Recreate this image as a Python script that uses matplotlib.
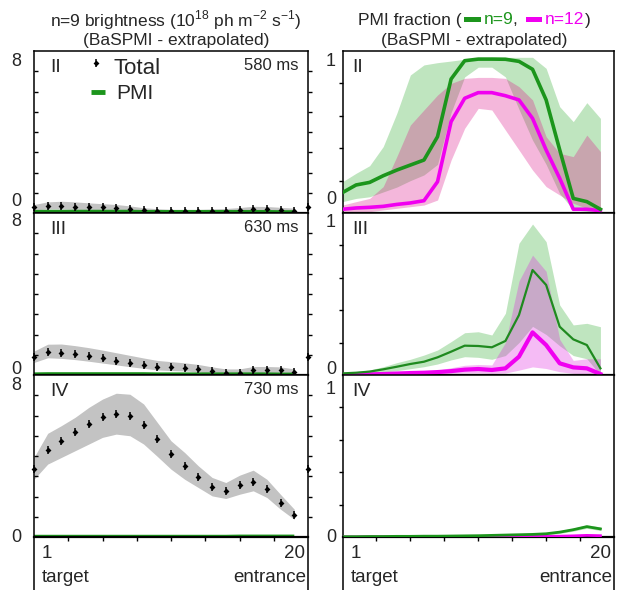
import numpy as np
import matplotlib
matplotlib.use('Agg')
import matplotlib.pyplot as plt
from matplotlib.lines import Line2D
from matplotlib.offsetbox import TextArea, DrawingArea, HPacker, AnnotationBbox
from matplotlib.patches import Rectangle

plt.rcParams['font.family'] = ['Liberation Sans', 'DejaVu Sans']
plt.rcParams['mathtext.fontset'] = 'custom'
plt.rcParams['mathtext.rm'] = 'Liberation Sans'

# ---------------- data ----------------
seg_left = np.arange(21)    # brightness positions (edge points included)
seg_right = np.arange(20)   # PMI fraction positions

# Left: n=9 brightness (10^18 ph m^-2 s^-1)
total_II = [0.28, 0.36, 0.36, 0.31, 0.30, 0.28, 0.26, 0.20, 0.15, 0.12, 0.10,
            0.10, 0.10, 0.10, 0.10, 0.15, 0.20, 0.18, 0.15, 0.12, 0.28]
total_II_hi = [0.42, 0.55, 0.58, 0.55, 0.50, 0.46, 0.42, 0.35, 0.26, 0.21,
               0.18, 0.18, 0.18, 0.20, 0.22, 0.27, 0.33, 0.32, 0.28, 0.24]
total_II_lo = [0.15, 0.20, 0.20, 0.17, 0.14, 0.12, 0.10, 0.06, 0.04, 0.03,
               0.02, 0.02, 0.02, 0.02, 0.02, 0.05, 0.08, 0.07, 0.05, 0.03]
pmi_II = [0.06, 0.07, 0.07, 0.07, 0.07, 0.07, 0.07, 0.07, 0.06, 0.06,
          0.06, 0.06, 0.06, 0.06, 0.06, 0.06, 0.06, 0.06, 0.05, 0.05]

total_III = [0.87, 1.14, 1.10, 1.02, 0.92, 0.82, 0.71, 0.61, 0.51, 0.41, 0.38,
             0.36, 0.30, 0.20, 0.10, 0.12, 0.25, 0.26, 0.25, 0.15, 0.87]
total_III_hi = [1.18, 1.52, 1.53, 1.45, 1.35, 1.23, 1.10, 0.97, 0.84, 0.72,
                0.66, 0.60, 0.52, 0.40, 0.30, 0.30, 0.42, 0.42, 0.40, 0.30]
total_III_lo = [0.62, 0.85, 0.82, 0.76, 0.68, 0.59, 0.50, 0.41, 0.33, 0.25,
                0.22, 0.20, 0.15, 0.06, 0.00, 0.02, 0.12, 0.13, 0.12, 0.04]
pmi_III = [0.04, 0.05, 0.05, 0.05, 0.05, 0.05, 0.05, 0.05, 0.05, 0.04,
           0.04, 0.04, 0.04, 0.04, 0.04, 0.04, 0.04, 0.04, 0.03, 0.03]

total_IV = [3.35, 4.31, 4.72, 5.17, 5.58, 5.91, 6.06, 5.97, 5.54, 4.83, 4.08,
            3.51, 2.95, 2.46, 2.26, 2.57, 2.74, 2.38, 1.67, 1.11, 3.38]
total_IV_hi = [3.93, 5.12, 5.50, 5.91, 6.40, 6.81, 7.10, 7.05, 6.57, 5.66,
               4.75, 4.17, 3.51, 2.94, 2.69, 3.05, 3.30, 2.85, 2.10, 1.37]
total_IV_lo = [2.85, 3.60, 3.93, 4.26, 4.59, 4.92, 5.08, 5.00, 4.59, 3.98,
               3.35, 2.85, 2.44, 2.03, 1.90, 2.11, 2.28, 1.95, 1.37, 0.87]
pmi_IV = [0.02, 0.02, 0.02, 0.02, 0.02, 0.02, 0.02, 0.02, 0.02, 0.02,
          0.02, 0.02, 0.02, 0.02, 0.02, 0.03, 0.03, 0.03, 0.03, 0.03]

# Right: PMI fraction
n9_II = [0.126, 0.173, 0.189, 0.230, 0.265, 0.296, 0.327, 0.471, 0.827, 0.940,
         0.950, 0.950, 0.949, 0.936, 0.887, 0.698, 0.390, 0.090, 0.070, 0.023]
n9_II_hi = [0.193, 0.245, 0.292, 0.410, 0.615, 0.852, 0.914, 0.928, 0.938, 0.949,
            0.955, 0.961, 0.961, 0.961, 0.961, 0.893, 0.656, 0.564, 0.681, 0.584]
n9_II_lo = [0.070, 0.090, 0.100, 0.130, 0.160, 0.200, 0.235, 0.300, 0.620, 0.840,
            0.900, 0.900, 0.840, 0.640, 0.450, 0.300, 0.120, 0.020, 0.010, 0.000]
n12_II = [0.023, 0.031, 0.035, 0.041, 0.053, 0.062, 0.076, 0.193, 0.564, 0.708,
          0.743, 0.743, 0.724, 0.698, 0.584, 0.389, 0.214, 0.023, 0.023, 0.014]
n12_II_hi = [0.049, 0.070, 0.090, 0.163, 0.348, 0.543, 0.636, 0.728, 0.800, 0.831,
             0.837, 0.837, 0.831, 0.780, 0.698, 0.471, 0.368, 0.348, 0.481, 0.379]
n12_II_lo = [0.002, 0.004, 0.008, 0.019, 0.029, 0.039, 0.049, 0.080, 0.327, 0.523,
             0.646, 0.636, 0.512, 0.389, 0.265, 0.163, 0.111, 0.060, 0.029, 0.008]

n9_III = [0.010, 0.014, 0.021, 0.035, 0.051, 0.068, 0.082, 0.109, 0.144, 0.181,
          0.179, 0.171, 0.210, 0.370, 0.648, 0.556, 0.298, 0.220, 0.185, 0.041]
n9_III_hi = [0.012, 0.021, 0.031, 0.051, 0.076, 0.097, 0.123, 0.154, 0.206, 0.261,
             0.267, 0.247, 0.381, 0.813, 0.932, 0.823, 0.432, 0.309, 0.319, 0.298]
n9_III_lo = [0.004, 0.006, 0.010, 0.018, 0.027, 0.039, 0.051, 0.068, 0.093, 0.113,
             0.109, 0.097, 0.120, 0.200, 0.300, 0.250, 0.180, 0.120, 0.100, 0.000]
n12_III = [0.000, 0.002, 0.004, 0.006, 0.009, 0.012, 0.014, 0.018, 0.024, 0.033,
           0.037, 0.031, 0.041, 0.113, 0.263, 0.185, 0.072, 0.047, 0.041, 0.006]
n12_III_hi = [0.002, 0.004, 0.007, 0.010, 0.014, 0.018, 0.022, 0.030, 0.045, 0.060,
              0.065, 0.062, 0.200, 0.580, 0.740, 0.640, 0.220, 0.090, 0.100, 0.100]
n12_III_lo = [0.000, 0.000, 0.000, 0.000, 0.002, 0.004, 0.006, 0.008, 0.010, 0.012,
              0.012, 0.010, 0.012, 0.030, 0.050, 0.040, 0.020, 0.010, 0.008, 0.000]

n9_IV = [0.002, 0.002, 0.003, 0.003, 0.004, 0.004, 0.005, 0.005, 0.006, 0.007,
         0.008, 0.010, 0.012, 0.014, 0.016, 0.020, 0.030, 0.045, 0.064, 0.050]
n9_IV_hi = [0.006, 0.006, 0.007, 0.007, 0.008, 0.008, 0.009, 0.010, 0.011, 0.012,
            0.013, 0.015, 0.017, 0.019, 0.022, 0.027, 0.038, 0.055, 0.075, 0.062]
n9_IV_lo = [0.000, 0.000, 0.000, 0.000, 0.001, 0.001, 0.002, 0.002, 0.002, 0.003,
            0.004, 0.005, 0.007, 0.009, 0.011, 0.014, 0.022, 0.036, 0.054, 0.040]
n12_IV = [0.000, 0.000, 0.001, 0.001, 0.001, 0.001, 0.002, 0.002, 0.002, 0.002,
          0.002, 0.003, 0.003, 0.003, 0.004, 0.004, 0.005, 0.007, 0.010, 0.008]

stages = ['II', 'III', 'IV']
times = ['580 ms', '630 ms', '730 ms']
total = [total_II, total_III, total_IV]
total_hi = [total_II_hi, total_III_hi, total_IV_hi]
total_lo = [total_II_lo, total_III_lo, total_IV_lo]
pmi = [pmi_II, pmi_III, pmi_IV]
n9 = [n9_II, n9_III, n9_IV]
n9_hi = [n9_II_hi, n9_III_hi, n9_IV_hi]
n9_lo = [n9_II_lo, n9_III_lo, n9_IV_lo]
n12 = [n12_II, n12_III, n12_IV]
n12_hi = [n12_II_hi, n12_III_hi, n12_IV]
n12_lo = [n12_II_lo, n12_III_lo, n12_IV]

# ---------------- layout ----------------
W, H = 617, 590
fig = plt.figure(figsize=(W / 100, H / 100), dpi=100)
TXT = '#262626'
GREEN = '#1c951c'
DGREEN = '#1f8a1f'
MAG = '#f000f0'


def fx(p):
    return p / W


def fy(p):
    return 1 - p / H


def total_marks(ax, x, y):
    ax.plot(x, y, ls='none', marker='D', ms=3.0, mew=0, color='black',
            zorder=3, clip_on=False)
    ax.plot(x, y, ls='none', marker='|', ms=5.5, mew=1.1, color='black',
            zorder=3, clip_on=False)


LX = (34, 308)
RX = (342.5, 614)
ROWS = [(51, 213), (213, 375), (375, 537)]

for i, (y0, y1) in enumerate(ROWS):
    # ---------- left panel ----------
    ax = fig.add_axes([fx(LX[0]), fy(y1), (LX[1] - LX[0]) / W, (y1 - y0) / H])
    ax.set_xlim(0, 20)
    ax.set_ylim(0, 8)
    xs = seg_left[:20]
    ax.fill_between(xs, total_lo[i], total_hi[i], color='#c3c3c3', lw=0, zorder=1)
    ax.plot(xs, pmi[i], color=GREEN, lw=2.6, zorder=2, solid_capstyle='butt')
    total_marks(ax, seg_left, total[i])
    ax.set_xticks(np.arange(1, 8) * 2.5)
    ax.set_yticks(np.arange(1, 8))
    ax.tick_params(axis='x', direction='out', length=3, width=1, labelbottom=False)
    ax.tick_params(axis='y', direction='in', length=3, width=1, labelleft=False)
    sec = ax.secondary_yaxis('right')
    sec.set_yticks(np.arange(1, 8))
    sec.tick_params(direction='out', length=3, width=1, labelright=False)
    sec.spines['right'].set_visible(False)
    for s in ax.spines.values():
        s.set_linewidth(1.1)
    ax.spines['bottom'].set_linewidth(1.6)

    # ---------- right panel ----------
    ar = fig.add_axes([fx(RX[0]), fy(y1), (RX[1] - RX[0]) / W, (y1 - y0) / H])
    ar.set_xlim(0, 20)
    ar.set_ylim(0, 1)
    pink = '#dd1188' if i == 0 else '#e020e0'
    ar.fill_between(seg_right, n9_lo[i], n9_hi[i], color='#80cc80', alpha=0.5, lw=0, zorder=1)
    if i < 2:
        ar.fill_between(seg_right, n12_lo[i], n12_hi[i], color=pink, alpha=0.3, lw=0, zorder=2)
    lw9 = [2.6, 1.6, 2.0][i]
    lw12 = [2.6, 3.0, 2.0][i]
    ar.plot(seg_right, n9[i], color=DGREEN if i == 1 else GREEN, lw=lw9, zorder=4)
    ar.plot(seg_right, n12[i], color=MAG, lw=lw12, zorder=3)
    ar.set_xticks(np.arange(1, 8) * 2.5)
    ar.set_yticks([0.2, 0.4, 0.6, 0.8])
    ar.tick_params(axis='x', direction='out', length=3, width=1, labelbottom=False)
    ar.tick_params(axis='y', direction='out', length=3, width=1, labelleft=False)
    for s in ar.spines.values():
        s.set_linewidth(1.1)
    ar.spines['bottom'].set_linewidth(1.6)

    # panel labels
    fig.text(fx(50), fy(ROWS[i][0] + 16), stages[i], fontsize=14, color=TXT,
             ha='left', va='center')
    fig.text(fx(352), fy(ROWS[i][0] + 16), stages[i], fontsize=14, color=TXT,
             ha='left', va='center')
    fig.text(fx(298), fy(ROWS[i][0] + 15), times[i], fontsize=12, color=TXT,
             ha='right', va='center')

# y tick labels (placed like the reference)
ylab_left = [(61, 201), (221, 369), (386, 538)]
ylab_right = [(61, 200), (223, 369), (390, 538)]
for (ytop, ybot) in ylab_left:
    fig.text(fx(21), fy(ytop), '8', fontsize=13, color=TXT, ha='right', va='center')
    fig.text(fx(21), fy(ybot), '0', fontsize=13, color=TXT, ha='right', va='center')
for (ytop, ybot) in ylab_right:
    fig.text(fx(336), fy(ytop), '1', fontsize=13, color=TXT, ha='right', va='center')
    fig.text(fx(336), fy(ybot), '0', fontsize=13, color=TXT, ha='right', va='center')

# extension of the bottom axes down to the figure edge
for xp in (LX[0], LX[1], RX[0], RX[1]):
    fig.add_artist(Line2D([fx(xp), fx(xp)], [fy(537), fy(590)], color='black', lw=1.1))

# bottom labels
for (xa, xb) in (LX, RX):
    fig.text(fx(xa + 8), fy(553), '1', fontsize=13.5, color=TXT, ha='left', va='center')
    fig.text(fx(xa + 8), fy(577), 'target', fontsize=13.5, color=TXT, ha='left', va='center')
    fig.text(fx(xb - 3), fy(553), '20', fontsize=13.5, color=TXT, ha='right', va='center')
    fig.text(fx(xb - 2), fy(577), 'entrance', fontsize=13.5, color=TXT, ha='right', va='center')

# legend in top-left panel
fig.add_artist(Line2D([fx(96)], [fy(63)], marker='D', ms=3.0, mew=0, color='black', ls='none'))
fig.add_artist(Line2D([fx(96)], [fy(63)], marker='|', ms=5.5, mew=1.1, color='black', ls='none'))
fig.text(fx(113), fy(68), 'Total', fontsize=16, color=TXT, ha='left', va='center')
fig.add_artist(Line2D([fx(91.5), fx(105)], [fy(92), fy(92)], color=GREEN, lw=3.5,
                      solid_capstyle='butt'))
fig.text(fx(116), fy(93), 'PMI', fontsize=15, color=TXT, ha='left', va='center')

# titles
fig.text(fx(176), fy(20),
         r'n=9 brightness (10$^{\mathregular{18}}$ ph m$^{\mathregular{-2}}$ s$^{\mathregular{-1}}$)',
         fontsize=12.5, color=TXT, ha='center', va='center')
fig.text(fx(176), fy(40), '(BaSPMI - extrapolated)', fontsize=12.5, color=TXT,
         ha='center', va='center')
fig.text(fx(474), fy(40), '(BaSPMI - extrapolated)', fontsize=12.5, color=TXT,
         ha='center', va='center')


def dash(color):
    da = DrawingArea(16, 10, 0, 0)
    da.add_artist(Rectangle((2, 3.5), 12, 3.5, color=color, lw=0))
    return da


props = dict(fontsize=12.5)
parts = [TextArea('PMI fraction (', textprops=dict(color=TXT, **props)),
         dash(GREEN),
         TextArea('n=9', textprops=dict(color=GREEN, **props)),
         TextArea(', ', textprops=dict(color=TXT, **props)),
         dash(MAG),
         TextArea('n=12', textprops=dict(color=MAG, **props)),
         TextArea(')', textprops=dict(color=TXT, **props))]
box = HPacker(children=parts, align='center', pad=0, sep=0)
ab = AnnotationBbox(box, (fx(474), fy(20)), xycoords='figure fraction',
                    frameon=False, box_alignment=(0.5, 0.5), pad=0)
fig.add_artist(ab)

fig.savefig('out.png', dpi=100)
